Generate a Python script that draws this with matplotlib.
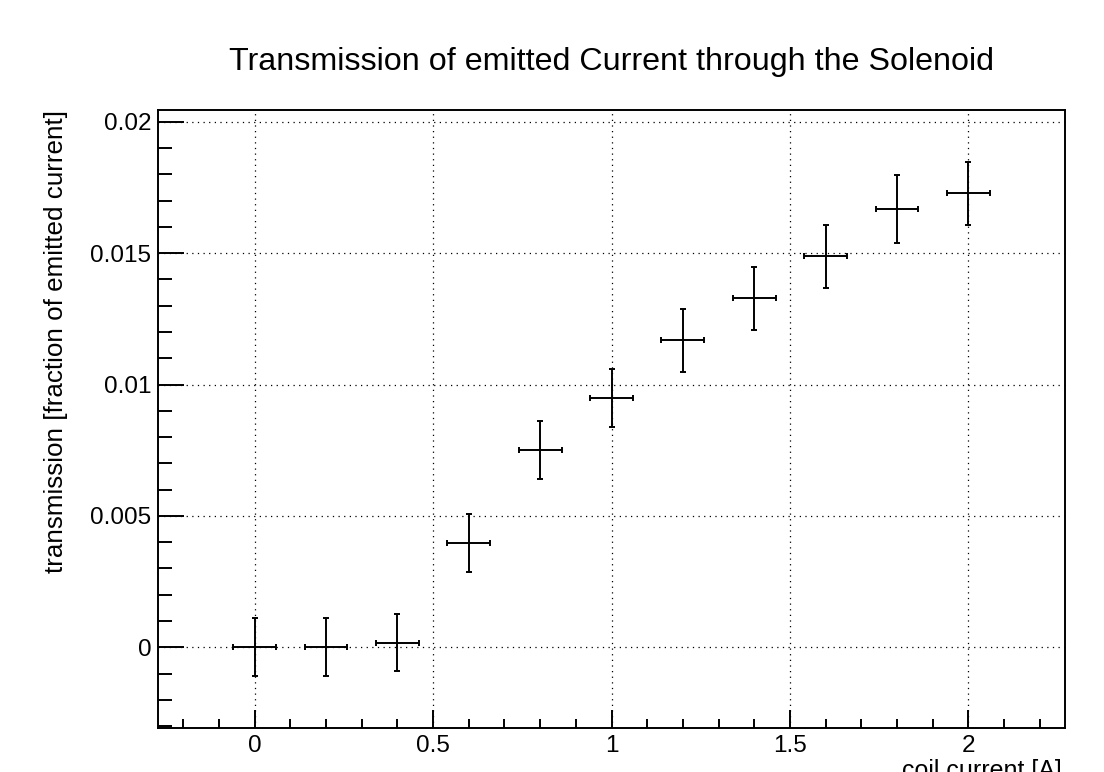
""" transmission.py """

import numpy as np
import matplotlib
matplotlib.use("Agg")
import matplotlib.pyplot as plt
from matplotlib.ticker import MultipleLocator

plt.rcParams['font.family'] = ['Liberation Sans', 'DejaVu Sans']

# measured points (coil current in A, transmission fraction)
coil_current = [0.0, 0.2, 0.4, 0.6, 0.8, 1.0, 1.2, 1.4, 1.6, 1.8, 2.0]
current_err = [0.06] * 11
transmission = [0.0, 0.0, 0.00018, 0.00398, 0.0075, 0.0095,
                0.01168, 0.01328, 0.01488, 0.01668, 0.01729]
transmission_err = [0.0011, 0.0011, 0.0011, 0.0011, 0.0011, 0.0011,
                    0.0012, 0.0012, 0.0012, 0.0013, 0.0012]


def root_range(vals, errs, margin=0.1):
    # ROOT-like automatic range: data extent plus 10% on each side
    v = np.asarray(vals)
    e = np.asarray(errs)
    lo, hi = (v - e).min(), (v + e).max()
    d = hi - lo
    return lo - margin * d, hi + margin * d


fig = plt.figure(figsize=(11.04, 7.72), dpi=100)
ax = fig.add_axes([0.1428, 0.0575, 0.8222, 0.7999])

ax.errorbar(coil_current, transmission, xerr=current_err, yerr=transmission_err,
            fmt='none', ecolor='k', elinewidth=1.4, capsize=2.4, capthick=1.4,
            zorder=3)

ax.set_xlim(*root_range(coil_current, current_err))
ax.set_ylim(*root_range(transmission, transmission_err))

ax.xaxis.set_major_locator(MultipleLocator(0.5))
ax.xaxis.set_minor_locator(MultipleLocator(0.1))
ax.yaxis.set_major_locator(MultipleLocator(0.005))
ax.yaxis.set_minor_locator(MultipleLocator(0.001))
ax.xaxis.set_major_formatter(lambda v, p: f"{v:g}")
ax.yaxis.set_major_formatter(lambda v, p: f"{v:g}")

ax.tick_params(axis='both', which='both', direction='in', top=False, right=False,
               width=1.4, labelsize=17.5)
ax.tick_params(axis='x', which='major', length=13, pad=5)
ax.tick_params(axis='x', which='minor', length=6.7)
ax.tick_params(axis='y', which='major', length=18.7, pad=4.5)
ax.tick_params(axis='y', which='minor', length=9.9)
for sp in ax.spines.values():
    sp.set_linewidth(1.4)

ax.grid(True, which='major', color='k', linestyle=(0, (1, 3.5)), linewidth=0.9)
ax.set_axisbelow(True)

ax.set_title("Transmission of emitted Current through the Solenoid",
             fontsize=23.2, pad=29)
ax.set_ylabel("transmission [fraction of emitted current]", fontsize=18.7, loc='top')
ax.yaxis.set_label_coords(-0.099, 1.0)
ax.set_xlabel("coil current [A]", fontsize=18, loc='right')
ax.xaxis.set_label_coords(0.9965, -0.051)

fig.savefig("out.png", dpi=100)
